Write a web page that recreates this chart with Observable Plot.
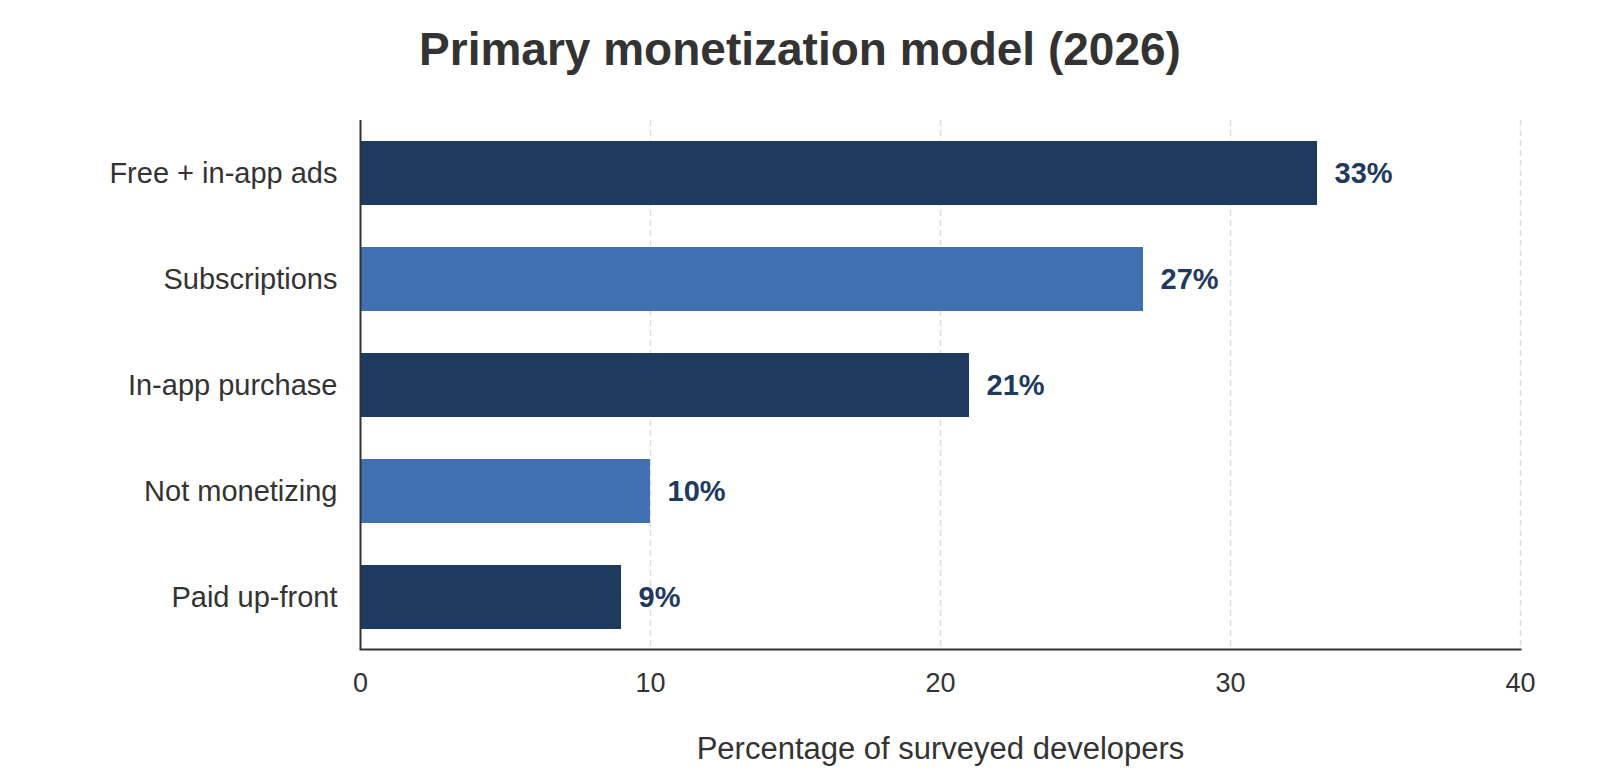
<!DOCTYPE html>
<html>
<head>
<meta charset="utf-8">
<script src="https://cdn.jsdelivr.net/npm/d3@7"></script>
<script src="https://cdn.jsdelivr.net/npm/@observablehq/plot@0.6"></script>
<style>
  html, body { margin: 0; padding: 0; background: #fff; }
  body { width: 1600px; height: 780px; overflow: hidden; font-family: "Liberation Sans", Arial, sans-serif; color: #333; }
  #title { height: 100px; box-sizing: border-box; padding-top: 24px; text-align: center; font-size: 46px; font-weight: bold; line-height: 50px; }
</style>
</head>
<body>
<div id="title">Primary monetization model (2026)</div>
<div id="chart"></div>
<script>
// Survey results: primary monetization model, share of developers (%)
const models = ["Free + in-app ads", "Subscriptions", "In-app purchase", "Not monetizing", "Paid up-front"];
const shares = [33, 27, 21, 10, 9];
const xTicks = [0, 10, 20, 30, 40];
const xTitle = "Percentage of surveyed developers";

const data = models.map((model, i) => ({model, share: shares[i], rank: i}));
const navy = "#1f3a5f";
const blue = "#4170b2";

const chart = Plot.plot({
  width: 1600,
  height: 680,
  marginTop: 20,
  marginBottom: 131,
  marginLeft: 360,
  marginRight: 80,
  style: {fontFamily: "'Liberation Sans', Arial, sans-serif", color: "#333", background: "#fff"},
  x: {domain: [0, 40], ticks: xTicks},
  y: {domain: models, paddingInner: 0.4, paddingOuter: 0.19},
  color: {type: "identity"},
  marks: [
    Plot.gridX(xTicks.slice(1), {stroke: "#ddd", strokeOpacity: 1, strokeWidth: 1.5, strokeDasharray: "6,4"}),
    Plot.barX(data, {x: "share", y: "model", fill: d => d.rank % 2 ? blue : navy}),
    Plot.text(data, {
      x: "share", y: "model", text: d => `${d.share}%`,
      textAnchor: "start", dx: 17, fill: navy, fontSize: 29, fontWeight: "bold"
    }),
    Plot.axisX({ticks: xTicks, tickSize: 0, tickPadding: 23, fontSize: 27, label: null}),
    Plot.axisY({tickSize: 0, tickPadding: 23, fontSize: 29, label: null}),
    Plot.ruleX([0], {stroke: "#333", strokeWidth: 2}),
    Plot.frame({anchor: "bottom", stroke: "#333", strokeWidth: 2}),
    Plot.text([xTitle], {
      text: d => d, frameAnchor: "bottom", lineAnchor: "bottom",
      dy: 109, fontSize: 31, fill: "#333"
    })
  ]
});

document.getElementById("chart").append(chart);
</script>
</body>
</html>
